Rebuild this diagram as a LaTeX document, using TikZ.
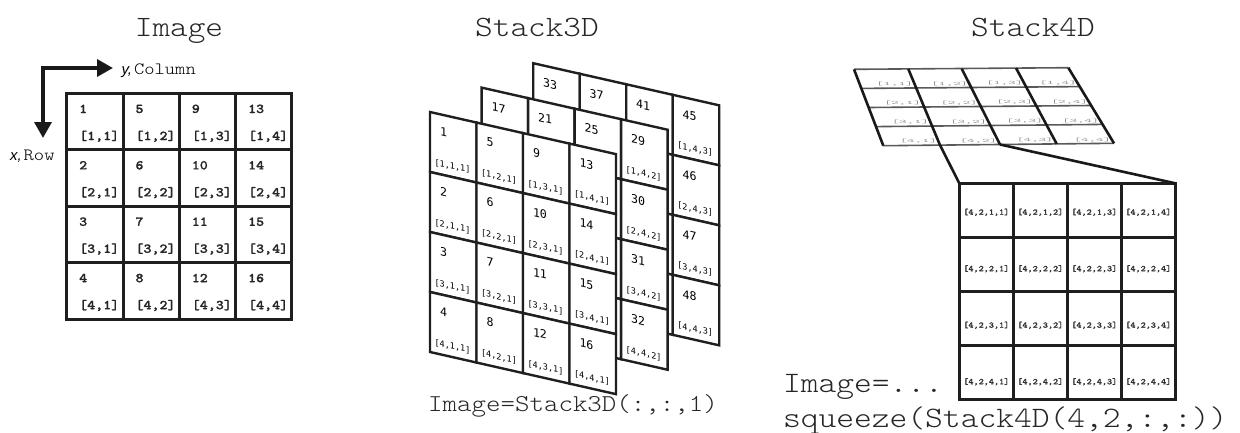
\documentclass[tikz,border=0pt]{standalone}
\usepackage{fontspec}
\usetikzlibrary{arrows.meta,calc}
\newfontfamily\cour[FakeStretch=1.14]{lmmonolt10-regular.otf}
\newfontfamily\courbf[FakeStretch=1.13,FakeBold=1.2]{lmmonolt10-bold.otf}
\newfontfamily\dvmono{DejaVu Sans Mono}
\newfontfamily\lsans{Liberation Sans}

\tikzset{
  every node/.style={inner sep=0pt, outer sep=0pt},
  ink/.style={draw=black!88},
  title/.style={anchor=base, font=\cour\fontsize{29.5}{32}\selectfont, text=black!85},
  code/.style={anchor=base west, font=\cour\fontsize{29.7}{32}\selectfont, text=black!85},
  code3/.style={anchor=base, font=\cour\fontsize{24.2}{27}\selectfont, text=black!85},
  imgcell/.style={ink, line width=3pt, minimum width=56.3pt, minimum height=56.4pt},
  imgtxt/.style={anchor=base west, font=\courbf\fontsize{13.5}{15}\selectfont, text=black!85},
  layercell/.style={ink, fill=white, line width=2.4pt, minimum width=46.5pt, minimum height=60pt, transform shape},
  layernum/.style={anchor=base west, font=\dvmono\fontsize{11.6}{13}\selectfont, transform shape},
  layeridx/.style={anchor=base, font=\dvmono\fontsize{8.5}{10}\selectfont, transform shape},
  bigcell/.style={ink, line width=3pt, minimum width=54pt, minimum height=54pt},
  bigidx/.style={font=\courbf\fontsize{8.6}{10}\selectfont, text=black!80},
  planeline/.style={black!90, line width=2.6pt},
  planerow/.style={black!65, line width=1.6pt},
  planeidx/.style={anchor=south east, font=\cour\fontsize{12.5}{14}\selectfont, text=black!60},
  axis/.style={black!90, line width=3.5pt, line join=miter,
    {Triangle[length=16pt,width=17pt]}-{Triangle[length=16pt,width=17pt]}},
}

\begin{document}
\begin{tikzpicture}[x=1pt, y=-1pt]
\useasboundingbox (0,0) rectangle (1240,432);

% ---------- titles ----------
\node[title] (tImage) at (179,36.5) {Image};
\node[title] (tStack3) at (537,36.5) {Stack3D};
\node[title] (tStack4) at (1033,36.5) {Stack4D};

% ---------- 2-D image with axes ----------
\coordinate (ax-o) at (43,68);
\coordinate (ax-x) at (43,138);
\coordinate (ax-y) at (113,68);
\draw[axis] (ax-x) -- (ax-o) -- (ax-y);
\node[anchor=base west] (ylab) at (121.5,74)
  {{\lsans\itshape\fontsize{15}{17}\selectfont y,}\hspace{2pt}{\cour\fontsize{17.2}{19}\selectfont Column}};
\node[anchor=base west] (xlab) at (10,160.7)
  {{\lsans\itshape\fontsize{15}{17}\selectfont x,}\hspace{2pt}{\cour\fontsize{17.2}{19}\selectfont Row}};

\foreach \r in {1,...,4} \foreach \c in {1,...,4} {
  \pgfmathtruncatemacro\v{(\c-1)*4+\r}
  \node[imgcell] (im-\r-\c) at ({66.7+56.3*(\c-0.5)},{93.5+56.4*(\r-0.5)}) {};
  \node[imgtxt] (im-\r-\c-n) at ({66.7+56.3*(\c-1)+12.5},{93.5+56.4*(\r-1)+19.5}) {\v};
  \node[imgtxt] (im-\r-\c-i) at ({66.7+56.3*(\c-1)+12.5},{93.5+56.4*(\r-1)+46.5}) {[\r,\c]};
}

% ---------- 3-D stack: three slanted layers, back to front ----------
\foreach \k/\ox/\oy in {3/533.2/63.2, 2/481.6/87.6, 1/430/112} {
  \begin{scope}[shift={(\ox,\oy)}, yslant=-0.2265]
    \foreach \c in {1,...,4} \foreach \r in {1,...,4} {
      \pgfmathtruncatemacro\v{(\k-1)*16+(\c-1)*4+\r}
      \node[layercell] (L\k-\r-\c) at ({46.5*(\c-0.5)},{60*(\r-0.5)}) {};
      \node[layernum] (L\k-\r-\c-n) at ({46.5*(\c-1)+10},{60*(\r-1)+21}) {\v};
      \node[layeridx] (L\k-\r-\c-i) at ({46.5*(\c-1)+22.5},{60*(\r-1)+52}) {[\r,\c,\k]};
    }
  \end{scope}
}
\node[code3] (c3) at (573,411) {Image=Stack3D(:,:,1)};

% ---------- 4-D stack: plane of images in perspective ----------
\coordinate (T0) at (854,69.3);
\coordinate (T1) at (908.3,69);
\coordinate (T2) at (961.7,68.7);
\coordinate (T3) at (1016,68);
\coordinate (T4) at (1068.3,67.7);
\coordinate (B0) at (883.3,145.7);
\coordinate (B1) at (940,145.1);
\coordinate (B2) at (1000,144.5);
\coordinate (B3) at (1056.7,143.9);
\coordinate (B4) at (1114,143.3);
\foreach \f in {0,0.25,0.5,0.75,1}
  \draw[planerow] ($(T0)!\f!(B0)$) -- ($(T4)!\f!(B4)$);
\foreach \r in {1,...,4} \foreach \c in {1,...,4}
  \node[planeidx] (P-\r-\c) at ($(T\c)!{\r/4}!(B\c) + (-3,-1.5)$)
    {\scalebox{1}[0.4]{[\r,\c]}};
\foreach \i in {0,...,4}
  \draw[planeline] (T\i) -- (B\i);

% one image of the plane, enlarged
\foreach \r in {1,...,4} \foreach \c in {1,...,4} {
  \node[bigcell] (G-\r-\c) at ({959.3+54*(\c-0.5)},{183.3+54*(\r-0.5)}) {};
  \node[bigidx] (G-\r-\c-i) at ({959.3+54*(\c-0.5)},{183.3+54*(\r-1)+29+2.5*(\r-1)}) {[4,2,\r,\c]};
}
\draw[planeline] (B1) -- (G-1-1.north west);
\draw[planeline] (B2) -- (G-1-4.north east);

\node[code] (c4a) at (783,392) {Image=...};
\node[code] (c4b) at (783,427) {squeeze(Stack4D(4,2,:,:))};
\end{tikzpicture}
\end{document}
